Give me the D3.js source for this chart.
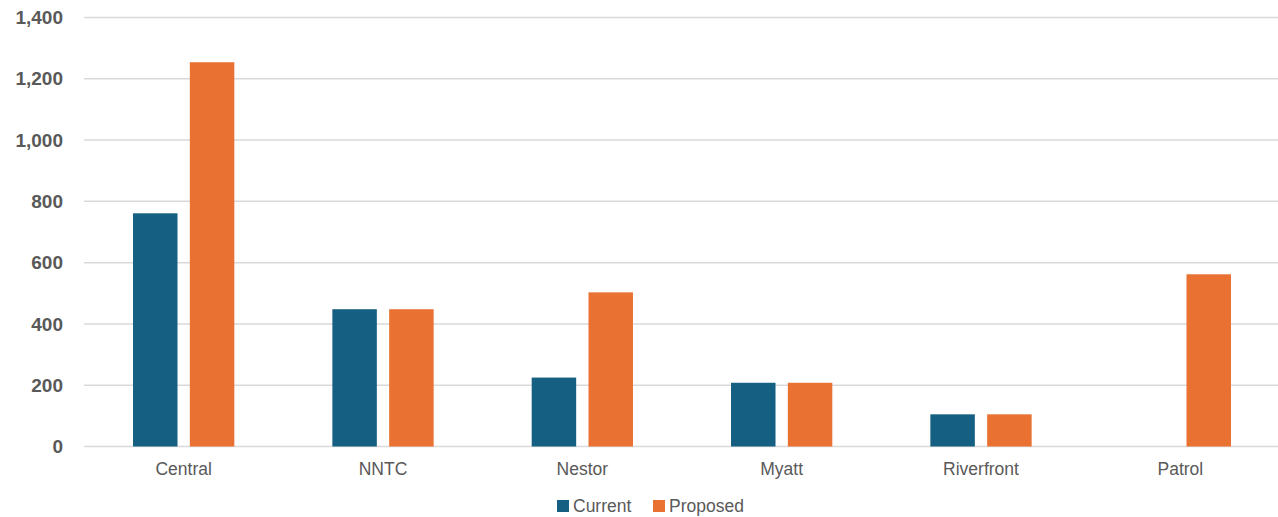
<!DOCTYPE html>
<html>
<head>
<meta charset="utf-8">
<script src="https://cdn.jsdelivr.net/npm/d3@7"></script>
<style>
  body { margin: 0; background: #fff; }
  text { font-family: "Liberation Sans", Arial, sans-serif; fill: #595959; }
</style>
</head>
<body>
<svg id="plot"></svg>
<script>
// chart data
const categories = ["Central", "NNTC", "Nestor", "Myatt", "Riverfront", "Patrol"];
const seriesNames = ["Current", "Proposed"];
const current = [761, 448, 225, 208, 105, 0];
const proposed = [1254, 448, 503, 208, 105, 562];
const yTicks = [0, 200, 400, 600, 800, 1000, 1200, 1400];
const colors = ["#156082", "#E97132"];

// init setting
const svg = d3.select("#plot")
    .attr("width", 1278)
    .attr("height", 517);
const margin = { top: 17.5, right: 0, bottom: 70.5, left: 84 };
const width = 1280 - margin.left;
const height = 517 - margin.top - margin.bottom;

const g = svg.append("g")
    .attr("transform", `translate(${margin.left},${margin.top})`);

// scales
const x = d3.scaleBand()
    .domain(categories)
    .range([0, width]);
// the two bars sit in the middle of each category (~101px wide together)
const x1 = d3.scaleBand()
    .domain(seriesNames)
    .range([x.bandwidth() / 2 - 50.65, x.bandwidth() / 2 + 50.65])
    .paddingInner(0.217);
const y = d3.scaleLinear()
    .domain([0, 1400])
    .range([height, 0]);

// gridlines
g.selectAll(".grid")
    .data(yTicks)
    .enter().append("line")
    .attr("class", "grid")
    .attr("x1", 0)
    .attr("x2", width)
    .attr("y1", d => y(d))
    .attr("y2", d => y(d))
    .style("stroke", "#d9d9d9")
    .style("stroke-width", 1.5);

// y axis
const yAxis = g.append("g")
    .call(d3.axisLeft(y).tickValues(yTicks).tickFormat(d3.format(",")).tickSize(0).tickPadding(21));
yAxis.select(".domain").remove();
yAxis.selectAll("text")
    .style("font-size", "19px")
    .style("font-weight", "bold")
    .style("fill", "#595959");

// x axis labels
const xAxis = g.append("g")
    .attr("transform", `translate(0,${height})`)
    .call(d3.axisBottom(x).tickSize(0).tickPadding(16));
xAxis.select(".domain").remove();
xAxis.selectAll("text")
    .style("font-size", "17.5px")
    .style("fill", "#595959");

// bars
const rows = categories.map((c, i) => ({ cat: c, values: [current[i], proposed[i]] }));
const groups = g.selectAll(".cat")
    .data(rows)
    .enter().append("g")
    .attr("class", "cat")
    .attr("transform", d => `translate(${x(d.cat)},0)`);
groups.selectAll("rect")
    .data(d => d.values.map((v, j) => ({ name: seriesNames[j], value: v, j })))
    .enter().append("rect")
    .attr("x", d => x1(d.name))
    .attr("width", x1.bandwidth())
    .attr("y", d => y(d.value))
    .attr("height", d => height - y(d.value))
    .style("fill", d => colors[d.j]);

// legend
const legend = svg.append("g")
    .attr("transform", "translate(557,506)");
const legendX = [0, 96];
seriesNames.forEach((name, i) => {
    legend.append("rect")
        .attr("x", legendX[i])
        .attr("y", -6)
        .attr("width", 12)
        .attr("height", 12)
        .style("fill", colors[i]);
    legend.append("text")
        .attr("x", legendX[i] + 16)
        .attr("y", 0)
        .attr("dy", "0.35em")
        .style("font-size", "17.5px")
        .text(name);
});
</script>
</body>
</html>
